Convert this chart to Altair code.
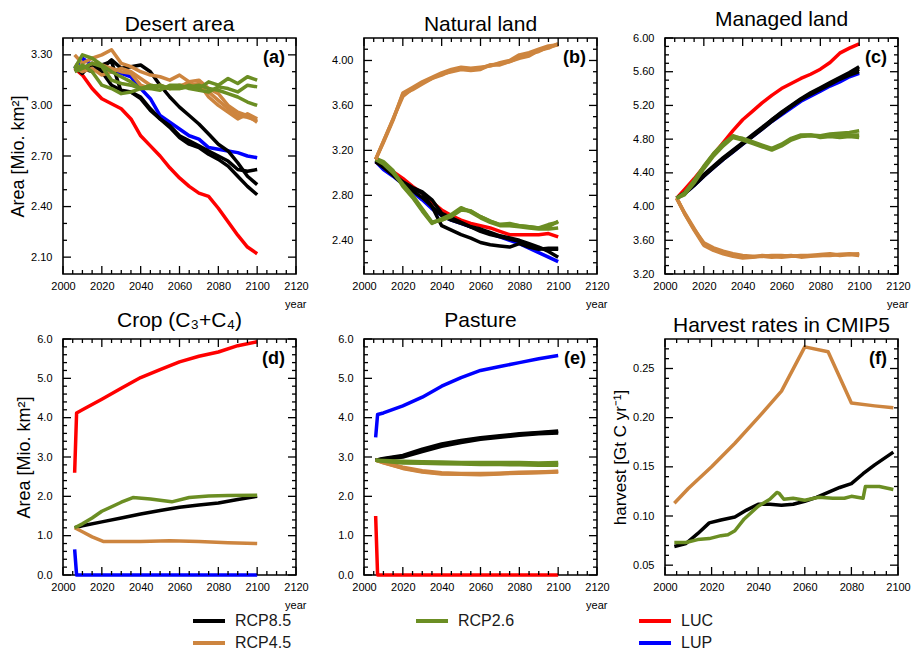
import altair as alt
import pandas as pd

FONT = "Liberation Sans"

# ---------------- data ----------------
Y5 = [2006, 2010, 2015, 2020, 2025, 2030, 2035, 2040, 2045, 2050,
      2055, 2060, 2065, 2070, 2075, 2080, 2085, 2090, 2095, 2100]

DESERT_RCP85 = [
    [3.22, 3.20, 3.24, 3.22, 3.27, 3.22, 3.23, 3.24, 3.20, 3.12, 3.05, 2.99, 2.94, 2.89, 2.83, 2.77, 2.73, 2.66, 2.58, 2.53],
    [3.21, 3.22, 3.20, 3.24, 3.26, 3.08, 3.08, 3.05, 2.98, 2.92, 2.88, 2.82, 2.79, 2.76, 2.73, 2.70, 2.67, 2.62, 2.61, 2.62],
    [3.23, 3.19, 3.25, 3.20, 3.12, 3.09, 3.08, 3.04, 2.97, 2.92, 2.87, 2.81, 2.77, 2.75, 2.71, 2.68, 2.64, 2.58, 2.52, 2.47]]
DESERT_RCP45 = [
    [3.30, 3.25, 3.28, 3.30, 3.33, 3.25, 3.23, 3.20, 3.18, 3.17, 3.15, 3.18, 3.14, 3.10, 3.08, 3.03, 2.98, 2.94, 2.93, 2.91],
    [3.22, 3.20, 3.22, 3.18, 3.20, 3.22, 3.20, 3.16, 3.12, 3.11, 3.10, 3.11, 3.14, 3.15, 3.10, 3.07, 3.00, 2.96, 2.94, 2.90],
    [3.24, 3.22, 3.25, 3.24, 3.22, 3.20, 3.19, 3.12, 3.10, 3.12, 3.10, 3.12, 3.12, 3.13, 3.05, 3.00, 2.96, 2.92, 2.95, 2.92]]
DESERT_RCP26 = [
    [3.22, 3.30, 3.28, 3.24, 3.20, 3.17, 3.14, 3.10, 3.12, 3.11, 3.10, 3.10, 3.12, 3.10, 3.14, 3.12, 3.16, 3.13, 3.17, 3.15],
    [3.21, 3.24, 3.20, 3.12, 3.10, 3.07, 3.08, 3.10, 3.10, 3.09, 3.12, 3.12, 3.10, 3.09, 3.08, 3.11, 3.10, 3.08, 3.12, 3.11],
    [3.20, 3.22, 3.25, 3.23, 3.15, 3.13, 3.12, 3.10, 3.11, 3.12, 3.10, 3.10, 3.11, 3.12, 3.10, 3.09, 3.07, 3.05, 3.02, 3.00]]
DESERT_LUC = [[3.22, 3.18, 3.10, 3.04, 3.01, 2.98, 2.92, 2.82, 2.76, 2.70, 2.63, 2.57, 2.52, 2.48, 2.46, 2.39, 2.31, 2.23, 2.16, 2.12]]
DESERT_LUP = [[3.22, 3.28, 3.24, 3.21, 3.20, 3.19, 3.17, 3.10, 3.04, 2.94, 2.90, 2.86, 2.82, 2.80, 2.75, 2.74, 2.73, 2.72, 2.70, 2.69]]

NATURAL_RCP85 = [
    [3.10, 3.05, 2.98, 2.91, 2.86, 2.82, 2.70, 2.53, 2.49, 2.45, 2.42, 2.38, 2.36, 2.35, 2.34, 2.37, 2.34, 2.32, 2.33, 2.33],
    [3.10, 3.06, 2.99, 2.92, 2.87, 2.83, 2.76, 2.64, 2.60, 2.56, 2.52, 2.50, 2.47, 2.44, 2.42, 2.40, 2.37, 2.34, 2.30, 2.25],
    [3.11, 3.05, 2.98, 2.90, 2.84, 2.78, 2.70, 2.62, 2.58, 2.55, 2.52, 2.48, 2.45, 2.43, 2.41, 2.39, 2.36, 2.33, 2.32, 2.32]]
NATURAL_RCP45 = [
    [3.12, 3.28, 3.48, 3.68, 3.75, 3.80, 3.84, 3.87, 3.91, 3.93, 3.92, 3.93, 3.96, 3.97, 3.99, 4.03, 4.06, 4.08, 4.12, 4.14],
    [3.12, 3.27, 3.47, 3.71, 3.76, 3.81, 3.85, 3.89, 3.92, 3.94, 3.93, 3.94, 3.95, 3.98, 4.00, 4.05, 4.07, 4.10, 4.13, 4.14],
    [3.12, 3.28, 3.48, 3.70, 3.74, 3.79, 3.84, 3.88, 3.90, 3.92, 3.91, 3.92, 3.96, 3.96, 3.99, 4.02, 4.04, 4.09, 4.11, 4.15]]
NATURAL_RCP26 = [
    [3.12, 3.09, 3.01, 2.90, 2.80, 2.68, 2.56, 2.58, 2.62, 2.68, 2.66, 2.61, 2.57, 2.54, 2.54, 2.53, 2.52, 2.51, 2.52, 2.57],
    [3.13, 3.10, 3.02, 2.88, 2.78, 2.66, 2.55, 2.59, 2.63, 2.69, 2.65, 2.60, 2.56, 2.53, 2.53, 2.52, 2.51, 2.50, 2.50, 2.51],
    [3.12, 3.08, 3.00, 2.89, 2.79, 2.67, 2.56, 2.58, 2.61, 2.67, 2.66, 2.61, 2.57, 2.54, 2.55, 2.53, 2.52, 2.51, 2.54, 2.56]]
NATURAL_LUC = [[3.10, 3.06, 3.01, 2.95, 2.88, 2.82, 2.74, 2.67, 2.62, 2.58, 2.55, 2.53, 2.51, 2.48, 2.45, 2.45, 2.45, 2.45, 2.46, 2.43]]
NATURAL_LUP = [[3.10, 3.03, 2.97, 2.90, 2.83, 2.76, 2.68, 2.62, 2.58, 2.55, 2.52, 2.49, 2.46, 2.43, 2.40, 2.37, 2.33, 2.29, 2.25, 2.21]]

MANAGED_RCP85 = [
    [4.10, 4.16, 4.26, 4.37, 4.47, 4.57, 4.66, 4.75, 4.84, 4.93, 5.03, 5.12, 5.20, 5.28, 5.35, 5.41, 5.47, 5.53, 5.59, 5.66],
    [4.10, 4.15, 4.25, 4.36, 4.46, 4.56, 4.65, 4.74, 4.83, 4.92, 5.01, 5.10, 5.19, 5.27, 5.34, 5.40, 5.46, 5.52, 5.58, 5.63],
    [4.10, 4.16, 4.27, 4.38, 4.48, 4.58, 4.67, 4.76, 4.85, 4.94, 5.03, 5.11, 5.19, 5.27, 5.33, 5.39, 5.45, 5.51, 5.56, 5.60]]
MANAGED_RCP45 = [
    [4.10, 3.92, 3.73, 3.57, 3.51, 3.47, 3.44, 3.42, 3.41, 3.41, 3.42, 3.42, 3.41, 3.41, 3.42, 3.42, 3.43, 3.43, 3.43, 3.44],
    [4.10, 3.93, 3.74, 3.55, 3.49, 3.45, 3.42, 3.40, 3.40, 3.41, 3.40, 3.41, 3.42, 3.40, 3.41, 3.42, 3.42, 3.43, 3.44, 3.43],
    [4.10, 3.92, 3.72, 3.54, 3.48, 3.44, 3.41, 3.39, 3.40, 3.42, 3.41, 3.40, 3.41, 3.42, 3.42, 3.43, 3.44, 3.42, 3.43, 3.42]]
MANAGED_RCP26 = [
    [4.10, 4.15, 4.30, 4.47, 4.62, 4.74, 4.84, 4.80, 4.76, 4.72, 4.68, 4.73, 4.80, 4.84, 4.85, 4.84, 4.86, 4.87, 4.88, 4.90],
    [4.10, 4.14, 4.28, 4.45, 4.60, 4.72, 4.82, 4.79, 4.75, 4.71, 4.67, 4.72, 4.79, 4.83, 4.84, 4.83, 4.84, 4.85, 4.85, 4.85],
    [4.10, 4.16, 4.31, 4.48, 4.63, 4.75, 4.83, 4.81, 4.77, 4.73, 4.69, 4.74, 4.81, 4.85, 4.85, 4.82, 4.83, 4.82, 4.83, 4.82]]
MANAGED_LUC = [[4.10, 4.20, 4.33, 4.47, 4.62, 4.76, 4.90, 5.03, 5.13, 5.23, 5.32, 5.40, 5.46, 5.52, 5.57, 5.63, 5.71, 5.82, 5.88, 5.93]]
MANAGED_LUP = [[4.10, 4.15, 4.25, 4.36, 4.46, 4.56, 4.65, 4.74, 4.83, 4.92, 5.01, 5.09, 5.17, 5.25, 5.31, 5.37, 5.43, 5.48, 5.54, 5.58]]

CROP_RCP85_YEARS = [2006, 2010, 2020, 2030, 2040, 2050, 2060, 2070, 2080, 2090, 2100]
CROP_RCP85 = [[1.20, 1.25, 1.35, 1.45, 1.55, 1.64, 1.72, 1.78, 1.83, 1.92, 2.00]]
CROP_RCP45_YEARS = [2006, 2010, 2015, 2021, 2040, 2055, 2070, 2085, 2100]
CROP_RCP45 = [[1.20, 1.10, 0.97, 0.85, 0.85, 0.87, 0.85, 0.82, 0.80]]
CROP_RCP26_YEARS = [2006, 2010, 2015, 2020, 2030, 2036, 2045, 2056, 2065, 2075, 2085, 2100]
CROP_RCP26 = [[1.20, 1.30, 1.45, 1.62, 1.85, 1.97, 1.93, 1.86, 1.97, 2.01, 2.02, 2.03]]
CROP_LUC_YEARS = [2006, 2007, 2010, 2020, 2030, 2040, 2050, 2060, 2070, 2080, 2090, 2100]
CROP_LUC = [[2.60, 4.12, 4.20, 4.47, 4.75, 5.02, 5.22, 5.42, 5.56, 5.67, 5.83, 5.93]]
CROP_LUP_YEARS = [2006, 2007, 2100]
CROP_LUP = [[0.65, 0.0, 0.0]]

PASTURE_YEARS = [2006, 2010, 2020, 2030, 2040, 2050, 2060, 2070, 2080, 2090, 2100]
PASTURE_RCP85 = [
    [2.92, 2.95, 3.02, 3.17, 3.30, 3.40, 3.47, 3.52, 3.57, 3.61, 3.64],
    [2.92, 2.96, 3.04, 3.20, 3.33, 3.42, 3.49, 3.54, 3.59, 3.62, 3.66],
    [2.92, 2.94, 3.00, 3.14, 3.27, 3.37, 3.45, 3.50, 3.55, 3.59, 3.61]]
PASTURE_RCP45 = [
    [2.92, 2.86, 2.72, 2.63, 2.58, 2.57, 2.56, 2.58, 2.60, 2.61, 2.63],
    [2.92, 2.87, 2.74, 2.65, 2.60, 2.58, 2.58, 2.59, 2.61, 2.62, 2.64],
    [2.92, 2.85, 2.71, 2.62, 2.57, 2.56, 2.55, 2.57, 2.59, 2.60, 2.62]]
PASTURE_RCP26 = [
    [2.92, 2.90, 2.87, 2.86, 2.85, 2.84, 2.83, 2.83, 2.83, 2.82, 2.82],
    [2.92, 2.91, 2.89, 2.88, 2.87, 2.86, 2.86, 2.86, 2.86, 2.85, 2.86],
    [2.92, 2.89, 2.85, 2.84, 2.83, 2.82, 2.81, 2.81, 2.80, 2.79, 2.79]]
PASTURE_LUC_YEARS = [2006, 2007, 2100]
PASTURE_LUC = [[1.5, 0.0, 0.0]]
PASTURE_LUP_YEARS = [2006, 2007, 2010, 2020, 2030, 2040, 2050, 2060, 2070, 2080, 2090, 2100]
PASTURE_LUP = [[3.50, 4.08, 4.12, 4.30, 4.52, 4.80, 5.02, 5.20, 5.30, 5.40, 5.50, 5.58]]

HARVEST_RCP45_YEARS = [2004, 2010, 2020, 2030, 2040, 2050, 2060, 2070, 2080, 2090, 2098]
HARVEST_RCP45 = [[0.113, 0.128, 0.150, 0.174, 0.200, 0.227, 0.272, 0.267, 0.215, 0.212, 0.210]]
HARVEST_RCP85_YEARS = [2004, 2009, 2014, 2019, 2024, 2030, 2035, 2040, 2045, 2050, 2055,
                       2060, 2065, 2070, 2075, 2080, 2085, 2090, 2098]
HARVEST_RCP85 = [[0.069, 0.072, 0.082, 0.093, 0.096, 0.099, 0.106, 0.112, 0.112, 0.111, 0.112,
                  0.115, 0.119, 0.124, 0.129, 0.133, 0.143, 0.152, 0.165]]
HARVEST_RCP26_YEARS = [2004, 2009, 2014, 2019, 2024, 2027, 2030, 2034, 2040, 2045, 2048, 2049,
                       2051, 2055, 2060, 2066, 2072, 2077, 2080, 2085, 2086, 2088, 2092, 2098]
HARVEST_RCP26 = [[0.073, 0.073, 0.076, 0.077, 0.080, 0.081, 0.085, 0.097, 0.110, 0.117, 0.124, 0.123,
                  0.117, 0.118, 0.116, 0.119, 0.118, 0.118, 0.120, 0.118, 0.130, 0.130, 0.130, 0.127]]

SCENARIOS = ["RCP8.5", "RCP4.5", "RCP2.6", "LUC", "LUP"]
COLORS = ["#000000", "#CD853F", "#6B8E23", "#FF0000", "#0000FF"]

LEGEND_NAMES = ["RCP8.5", "RCP4.5", "RCP2.6", "LUC", "LUP"]
LEGEND_COL = [0, 0, 1, 2, 2]
LEGEND_ROW = [0, 1, 0, 0, 1]

# ---------------- helpers ----------------
color_scale = alt.Scale(domain=SCENARIOS, range=COLORS)
W, H = 233, 236
MAJ_LEN, MIN_LEN = 8, 4
TICK_W = 1.3


def frame(series):
    rows = []
    for scen, years, runs in series:
        for r, vals in enumerate(runs):
            for yr, v in zip(years, vals):
                rows.append({"year": yr, "value": v, "scenario": scen, "run": f"{scen}-{r}"})
    return pd.DataFrame(rows)


def steps(lo, hi, step, skip):
    out = []
    n = int(round((hi - lo) / step))
    for i in range(1, n):
        v = round(lo + i * step, 4)
        if all(abs(v - s) > 1e-6 for s in skip):
            out.append(v)
    return out


def panel(df, xdom, xmaj, ydom, ymaj, ystep, yfmt, title, ytitle, ytsize, tag, show_year):
    xs = alt.Scale(domain=xdom, nice=False, zero=False)
    ys = alt.Scale(domain=ydom, nice=False, zero=False)
    xmin = steps(xdom[0], xdom[1], 5, xmaj)
    ymin = steps(ydom[0], ydom[1], ystep, ymaj)

    xaxis_kw = dict(orient="bottom", values=xmaj, format="d", labelFlush=False, labelOverlap=False,
                    ticks=False, tickSize=0, grid=False, labelPadding=6, domain=False)
    if show_year:
        xaxis_kw.update(title="year", titleFontSize=11, titleX=W + 10, titleY=33,
                        titleAlign="right", titleBaseline="alphabetic")
    else:
        xaxis_kw.update(title=None)
    yaxis_kw = dict(orient="left", values=ymaj, format=yfmt, labelOverlap=False, ticks=False,
                    tickSize=0, grid=False, labelPadding=11, domain=False)
    if ytitle:
        yaxis_kw.update(title=ytitle, titleFontSize=ytsize, titlePadding=3)
    else:
        yaxis_kw.update(title=None)

    lines = alt.Chart(df).mark_line(strokeWidth=3.5, strokeJoin="round").encode(
        x=alt.X("year:Q", scale=xs, axis=alt.Axis(**xaxis_kw)),
        y=alt.Y("value:Q", scale=ys, axis=alt.Axis(**yaxis_kw)),
        color=alt.Color("scenario:N", scale=color_scale, legend=None),
        detail="run:N",
    )

    # short inward tick marks on all four sides, placed by the panel's own scales
    ticks = []
    for vals, ln in [(xmaj, MAJ_LEN), (xmin, MIN_LEN)]:
        d = pd.DataFrame({"tv": vals})
        for y0, y1 in ((H, H - ln), (0, ln)):
            ticks.append(alt.Chart(d).mark_rule(strokeWidth=TICK_W, color="black", opacity=1).encode(
                x=alt.X("tv:Q", scale=xs, axis=None), y=alt.value(y0), y2=alt.value(y1)))
    for vals, ln in [(ymaj, MAJ_LEN), (ymin, MIN_LEN)]:
        d = pd.DataFrame({"tv": vals})
        for x0, x1 in ((0, ln), (W, W - ln)):
            ticks.append(alt.Chart(d).mark_rule(strokeWidth=TICK_W, color="black", opacity=1).encode(
                y=alt.Y("tv:Q", scale=ys, axis=None), x=alt.value(x0), x2=alt.value(x1)))

    label = alt.Chart(pd.DataFrame({"t": [tag]})).mark_text(
        align="right", baseline="middle", fontSize=18, fontWeight="bold", font=FONT, color="black"
    ).encode(text="t:N", x=alt.value(W - 11), y=alt.value(20))

    return alt.layer(lines, *ticks, label).resolve_axis(
        x="independent", y="independent"
    ).properties(
        width=W, height=H,
        title=alt.Title(title, fontSize=21, font=FONT, fontWeight="normal", offset=2),
    )


XMAJ = [2000, 2020, 2040, 2060, 2080, 2100, 2120]
XMAJ_F = [2000, 2020, 2040, 2060, 2080, 2100]

df_a = frame([("LUP", Y5, DESERT_LUP), ("LUC", Y5, DESERT_LUC), ("RCP8.5", Y5, DESERT_RCP85),
              ("RCP4.5", Y5, DESERT_RCP45), ("RCP2.6", Y5, DESERT_RCP26)])
df_b = frame([("LUP", Y5, NATURAL_LUP), ("LUC", Y5, NATURAL_LUC), ("RCP8.5", Y5, NATURAL_RCP85),
              ("RCP2.6", Y5, NATURAL_RCP26), ("RCP4.5", Y5, NATURAL_RCP45)])
df_c = frame([("LUP", Y5, MANAGED_LUP), ("LUC", Y5, MANAGED_LUC), ("RCP8.5", Y5, MANAGED_RCP85),
              ("RCP4.5", Y5, MANAGED_RCP45), ("RCP2.6", Y5, MANAGED_RCP26)])
df_d = frame([("LUP", CROP_LUP_YEARS, CROP_LUP), ("LUC", CROP_LUC_YEARS, CROP_LUC),
              ("RCP8.5", CROP_RCP85_YEARS, CROP_RCP85), ("RCP4.5", CROP_RCP45_YEARS, CROP_RCP45),
              ("RCP2.6", CROP_RCP26_YEARS, CROP_RCP26)])
df_e = frame([("LUP", PASTURE_LUP_YEARS, PASTURE_LUP), ("LUC", PASTURE_LUC_YEARS, PASTURE_LUC),
              ("RCP8.5", PASTURE_YEARS, PASTURE_RCP85), ("RCP4.5", PASTURE_YEARS, PASTURE_RCP45),
              ("RCP2.6", PASTURE_YEARS, PASTURE_RCP26)])
df_f = frame([("RCP4.5", HARVEST_RCP45_YEARS, HARVEST_RCP45), ("RCP8.5", HARVEST_RCP85_YEARS, HARVEST_RCP85),
              ("RCP2.6", HARVEST_RCP26_YEARS, HARVEST_RCP26)])

AREA = "Area [Mio. km²]"
pa = panel(df_a, [2000, 2120], XMAJ, [2.0, 3.4], [2.1, 2.4, 2.7, 3.0, 3.3], 0.1, ".2f",
           "Desert area", AREA, 18, "(a)", True)
pb = panel(df_b, [2000, 2120], XMAJ, [2.1, 4.2], [2.4, 2.8, 3.2, 3.6, 4.0], 0.1, ".2f",
           "Natural land", None, 18, "(b)", True)
pc = panel(df_c, [2000, 2120], XMAJ, [3.2, 6.0], [3.2, 3.6, 4.0, 4.4, 4.8, 5.2, 5.6, 6.0], 0.1, ".2f",
           "Managed land", None, 18, "(c)", True)
pd_ = panel(df_d, [2000, 2120], XMAJ, [0.0, 6.0], [0.0, 1.0, 2.0, 3.0, 4.0, 5.0, 6.0], 0.2, ".1f",
            "Crop (C₃+C₄)", AREA, 18, "(d)", True)
pe = panel(df_e, [2000, 2120], XMAJ, [0.0, 6.0], [0.0, 1.0, 2.0, 3.0, 4.0, 5.0, 6.0], 0.2, ".1f",
           "Pasture", None, 18, "(e)", True)
pf = panel(df_f, [2000, 2100], XMAJ_F, [0.04, 0.28], [0.05, 0.1, 0.15, 0.2, 0.25], 0.01, ".2f",
           "Harvest rates in CMIP5", "harvest [Gt C yr⁻¹]", 17, "(f)", False)

legend_df = pd.DataFrame({"name": LEGEND_NAMES, "col": LEGEND_COL, "row": LEGEND_ROW})
lx = alt.X("col:Q", scale=alt.Scale(domain=[-0.6547, 0.3901], nice=False, zero=False), axis=None)
ly = alt.Y("row:Q", scale=alt.Scale(domain=[0.8636, 1.3182], nice=False, zero=False, reverse=True), axis=None)
leg_sym = alt.Chart(legend_df).mark_point(shape="stroke", size=1024, strokeWidth=4, filled=False, opacity=1).encode(
    x=lx, y=ly, color=alt.Color("name:N", scale=color_scale, legend=None))
leg_txt = alt.Chart(legend_df).mark_text(align="left", baseline="middle", dx=26, fontSize=16, font=FONT,
                                         color="#1a1a1a").encode(x=lx, y=ly, text="name:N")
legend = alt.layer(leg_sym, leg_txt).properties(
    width=W, height=10, view=alt.ViewBackground(stroke="transparent"))

chart = alt.concat(pa, pb, pc, pd_, pe, pf, legend, columns=3,
                   spacing={"row": 65, "column": 68}, bounds="flush").properties(
    padding=0
).configure(
    font=FONT
).configure_view(stroke="black", strokeWidth=1.6).configure_axis(
    labelColor="black", labelFont=FONT, labelFontSize=11, titleFont=FONT,
    titleColor="black", titleFontWeight="normal"
).configure_title(font=FONT, color="black", fontWeight="normal", anchor="middle")

chart.save("out.html", embed_options={"renderer": "svg", "actions": False})
